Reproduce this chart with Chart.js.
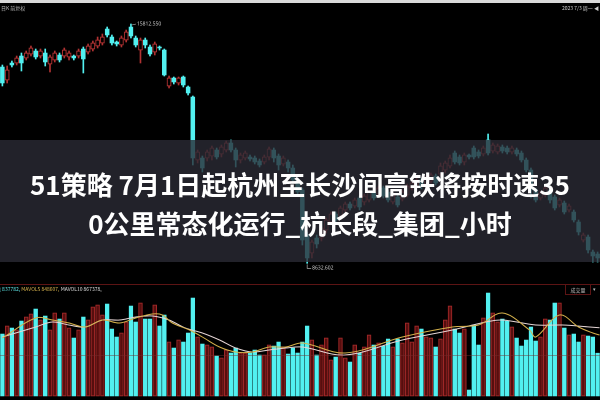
<!DOCTYPE html>
<html><head><meta charset="utf-8">
<script src="https://cdn.jsdelivr.net/npm/chart.js@4.4.0/dist/chart.umd.min.js"></script>
<style>
html,body{margin:0;padding:0;background:#000;}
#wrap{position:relative;width:600px;height:400px;overflow:hidden;background:#000;font-family:"Noto Sans CJK SC","Noto Sans",sans-serif;}
canvas{position:absolute;left:0;top:0;}
.t{position:absolute;white-space:nowrap;font-size:5px;line-height:6px;}
#topbar{position:absolute;left:0;top:0;width:600px;height:3px;background:#d9d9d9;}
#sep{position:absolute;left:0;top:284px;width:600px;height:1px;background:#5c1414;}
#grid{position:absolute;left:0;top:355px;width:600px;height:1px;background:rgba(120,45,45,0.45);}
#band{position:absolute;left:0;top:140px;width:600px;height:122px;background:rgba(42,43,53,0.8);}
#title{position:absolute;left:0;top:164px;width:600px;text-align:center;color:#fff;font-weight:700;font-size:26px;line-height:39px;}
#volbox{position:absolute;left:565px;top:284px;width:24px;height:9px;border:1px solid #5c1414;color:#bbb;font-size:5px;line-height:9px;text-align:center;}
</style>
</head><body>
<div id="wrap">
<canvas id="c" width="600" height="400"></canvas>
<div id="topbar"></div>
<div class="t" style="left:1px;top:5px;color:#bbb;">日K 前复权</div>
<div class="t" style="left:562px;top:5px;color:#ccc;">2023 7/3 周一 ◀</div>
<div id="sep"></div>
<div id="grid"></div>
<div class="t" style="left:-4px;top:286px;"><span style="color:#5fe6e6;">量 837782,</span> <span style="color:#d6b24c;">MAVOL5 848607,</span> <span style="color:#dddddd;">MAVOL10 867378,</span></div>
<div id="volbox">成交量</div>
<div class="t" style="left:593px;top:286px;color:#bbb;">▾</div>
<div id="band"></div>
<div id="title">51策略 7月1日起杭州至长沙间高铁将按时速35<br>0公里常态化运行_杭长段_集团_小时</div>
</div>
<script>
const opens = [14522,14132,14642,14642,14852,14792,14912,15002,14852,14942,
14612,14732,14882,14852,14822,14852,14852,15062,14972,15062,
15152,15242,15662,15422,15272,15182,15332,15722,15392,15032,
15332,15122,14972,15122,15032,13952,14192,14042,14222,13922,
13622,11732,11792,11792,11852,12032,11912,12032,12242,12032,
11732,11792,11822,11792,11702,11672,11822,12032,11852,11612,
11672,11492,11132,10832,9482,8942,9392,9392,9632,9872,
10112,10052,10232,10412,10352,10592,10472,10532,10772,10712,
10892,10772,10472,10622,10562,10682,10892,10982,11132,11012,
11102,11252,11312,11432,11552,11942,11822,11672,11882,12092,
11972,11912,12332,12002,11972,12122,12092,11972,12032,11942,
11732,11432,10832,10592,10682,10832,10622,10382,10442,10232,
10172,9872,9332,9422,8972,8912];
const closes = [14042,14432,14582,14792,14642,14942,15092,14822,15002,14672,
14822,14942,14732,15032,14942,14792,15002,14762,15152,15242,
15332,15422,15482,15242,15212,15392,15572,15452,15182,15332,
15182,14912,15212,15092,14282,14192,14072,14192,13982,13742,
11792,11972,11492,11972,12092,11822,12122,12242,12032,11732,
11882,11942,11762,11672,11582,11822,12062,11792,11582,11792,
11492,11132,10772,9332,8792,9272,9212,9692,9932,10112,
9932,10292,10412,10292,10532,10322,10652,10772,10592,10892,
10652,10532,10682,10382,10772,10952,11042,11132,10952,11192,
11282,11042,11552,11642,11792,11672,11642,11882,11822,11822,
11852,12092,11942,12182,12152,12002,11972,12092,11912,11732,
11432,10832,10532,10742,10892,10532,10292,10532,10172,10352,
9932,9572,9482,9032,8852,8792];
const highs = [14582,14552,14702,14852,14942,15002,15152,15062,15062,15062,
14882,15002,14942,15092,15002,14882,15062,15122,15212,15302,
15422,15512,15722,15482,15302,15452,15632,15812.55,15452,15392,
15392,15182,15272,15152,15062,14252,14222,14222,14252,13952,
13652,12032,11852,12032,12152,12092,12182,12302,12332,12092,
11942,12002,11882,11852,11762,11882,12122,12092,11912,11852,
11732,11582,11192,10892,9572,9332,9482,9752,9992,10172,
10172,10352,10472,10472,10592,10652,10712,10832,10832,10952,
10952,10832,10742,10682,10832,11012,11102,11192,11192,11252,
11342,11312,11642,11702,11882,12002,11882,11942,11912,12152,
12032,12152,12512,12242,12212,12182,12152,12152,12092,12002,
11792,11492,10892,10802,10952,10892,10682,10592,10502,10412,
10232,9932,9542,9482,9032,8972];
const lows = [13952,14042,14522,14582,14402,14732,14852,14762,14792,14552,
14372,14672,14672,14792,14732,14732,14792,14342,14912,15002,
15092,15182,15422,15182,15152,15122,15272,15392,15122,14642,
15092,14852,14882,15032,14252,13892,14012,13982,13922,13682,
11582,11642,11372,11702,11732,11762,11822,11972,11972,11522,
11642,11732,11702,11612,11522,11612,11732,11672,11432,11552,
11372,11042,10682,9182,8632.6,8792,9092,9302,9542,9782,
9842,9992,10172,10232,10292,10232,10382,10472,10532,10652,
10592,10472,10412,10322,10502,10622,10832,10922,10862,10952,
11042,10982,11252,11342,11492,11612,11582,11582,11762,11762,
11792,11852,11882,11942,11912,11942,11912,11912,11852,11672,
11372,10592,10472,10532,10622,10442,10232,10322,10112,10172,
9872,9482,9272,8942,8672,8672];
const volumes = [1209000,1365000,1326000,1287000,1462500,1540500,1599000,1696500,1482000,1560000,
1287000,1618500,1501500,1618500,1326000,1131000,1287000,1540500,1482000,1735500,
1774500,1579500,1794000,1306500,1150500,1228500,1443000,1755000,1443000,1813500,
1501500,1501500,1774500,1365000,1579500,1053000,936000,1092000,1053000,1228500,
1911000,1150500,1014000,994500,955500,780000,741000,897000,838500,936000,
838500,838500,838500,897000,799500,799500,994500,975000,1053000,955500,
819000,936000,838500,1053000,1365000,1092000,799500,994500,1131000,702000,
760500,1131000,741000,663000,994500,838500,955500,1189500,994500,1033500,
975000,1111500,955500,1111500,1033500,1423500,1053000,1365000,1306500,1150500,
1131000,955500,1111500,1482000,1755000,1306500,1228500,1306500,117000,1384500,
994500,1521000,2008500,1618500,1443000,1501500,1462500,1345500,1131000,975000,
1092000,1345500,1072500,1150500,1501500,1482000,1813500,1813500,1326000,1189500,
1209000,1053000,1189500,1170000,1150500,837782];

const ma5Idx = [0,7,10.5,14,17.4,21,24.6,28,31.5,33.6,35.7,39.3,42,45.6,49,52.5,56,59.5,63,72,84,94.5,100,105,110.7,112,117,121,124,125.4];
const ma5 = [1131000,1521000,1482000,1423500,1345500,1482000,1423500,1521000,1599000,1579500,1423500,1287000,1150500,955500,858000,858000,955500,955500,1033500,838500,1150500,1345500,1384500,1618500,1287000,1150500,1579500,1345500,1228500,1190000];
const ma10Idx = [0,7,10.5,14,17.4,21,24.6,28,31.5,35,38.4,42,45.6,49,52.5,56,59.5,63,72,84,94.5,101.5,105,112,117.6,123.3,125.4];
const ma10 = [1150500,1345500,1443000,1384500,1345500,1482000,1482000,1540500,1560000,1482000,1326000,1228500,1092000,936000,858000,897000,936000,955500,799500,1092000,1287000,1443000,1482000,1384500,1384500,1345500,1330000];

const days = opens.map((_, i) => 'D' + (i + 1));

const UP = '#b03232', DOWN = '#52f0f0';
const isUp = opens.map((o, i) => closes[i] >= o);
const wickData = highs.map((h, i) => [lows[i], h]);
const bodyData = opens.map((o, i) => [o, closes[i]]);
const volData = volumes.map(v => [0, v]);

const extremeLabels = {
  id: 'extremeLabels',
  afterDatasetsDraw(chart) {
    const c = chart.ctx, x = chart.scales.x, y = chart.scales.yP;
    const hi = Math.max(...highs), lo = Math.min(...lows);
    const hiI = highs.indexOf(hi), loI = lows.indexOf(lo);
    c.save();
    c.font = '5px "Noto Sans", sans-serif';
    c.fillStyle = '#cfcfcf'; c.strokeStyle = '#cfcfcf'; c.lineWidth = 0.6;
    c.textBaseline = 'middle';
    let px = x.getPixelForValue(hiI), py = y.getPixelForValue(hi);
    c.beginPath(); c.moveTo(px + 1, py + 1); c.lineTo(px + 5, py); c.stroke();
    c.fillText(hi.toFixed(3), px + 6, py);
    px = x.getPixelForValue(loI); py = y.getPixelForValue(lo) + 5;
    c.beginPath(); c.moveTo(px, py - 4); c.lineTo(px, py); c.lineTo(px + 4, py); c.stroke();
    c.fillText('8632.602', px + 5, py);
    c.restore();
  }
};

new Chart(document.getElementById('c'), {
  data: {
    labels: days,
    datasets: [
      { type: 'line', xAxisID: 'xl', yAxisID: 'yV', order: 0,
        data: ma5Idx.map((xv, k) => ({ x: xv, y: ma5[k] })),
        borderColor: '#d6b24c', borderWidth: 1, pointRadius: 0, tension: 0.35 },
      { type: 'line', xAxisID: 'xl', yAxisID: 'yV', order: 0,
        data: ma10Idx.map((xv, k) => ({ x: xv, y: ma10[k] })),
        borderColor: '#e6d6d6', borderWidth: 1, pointRadius: 0, tension: 0.35 },
      { type: 'bar', xAxisID: 'x', yAxisID: 'yP', order: 3, grouped: false,
        data: wickData, backgroundColor: isUp.map(u => u ? UP : DOWN),
        barThickness: 1, borderWidth: 0 },
      { type: 'bar', xAxisID: 'x', yAxisID: 'yP', order: 2, grouped: false,
        data: bodyData, backgroundColor: isUp.map(u => u ? '#000' : DOWN),
        borderColor: isUp.map(u => u ? UP : DOWN), borderWidth: 1, borderSkipped: false,
        barThickness: 4, minBarLength: 1 },
      { type: 'bar', xAxisID: 'x', yAxisID: 'yV', order: 3, grouped: false,
        data: volData, backgroundColor: isUp.map(u => u ? '#560e0e' : DOWN),
        borderColor: isUp.map(u => u ? '#a02828' : DOWN), borderWidth: 1, borderSkipped: false,
        barThickness: 3.8 }
    ]
  },
  options: {
    responsive: false, animation: false, devicePixelRatio: 2,
    layout: { padding: 0 },
    plugins: { legend: { display: false }, tooltip: { enabled: false } },
    scales: {
      x: { type: 'category', display: false, offset: true },
      xl: { type: 'linear', display: false, min: -0.5, max: 125.5 },
      yP: { type: 'linear', display: false, min: 4532, max: 16532 },
      yV: { type: 'linear', display: false, min: -78000, max: 7722000 }
    }
  },
  plugins: [extremeLabels]
});
</script>
</body></html>
